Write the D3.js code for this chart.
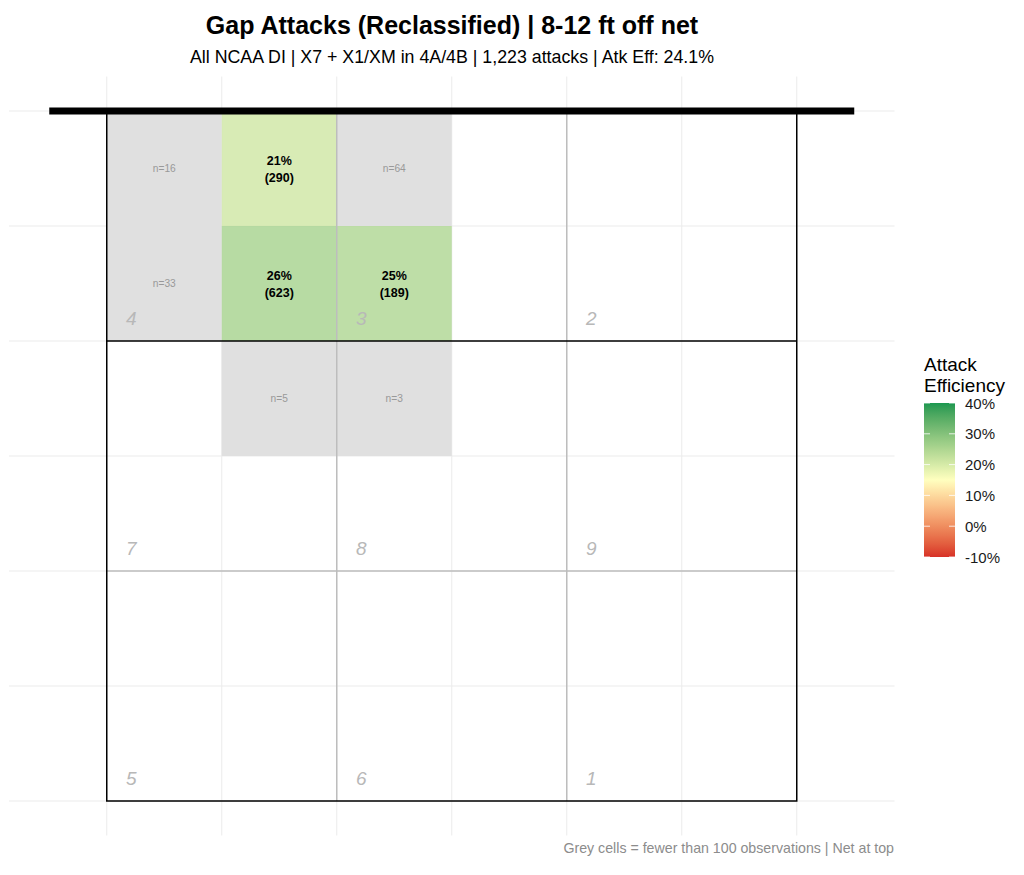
<!DOCTYPE html>
<html>
<head>
<meta charset="utf-8">
<script src="https://cdn.jsdelivr.net/npm/d3@7"></script>
<style>
  body { margin: 0; background: #fff; }
  svg { font-family: "Liberation Sans", Arial, sans-serif; }
</style>
</head>
<body>
<div id="chart"></div>
<script>
// Cell data (1.5 m cells, column / row counted from left / net)
const cellCol = [0, 1, 2, 0, 1, 2, 1, 2];
const cellRow = [0, 0, 0, 1, 1, 1, 2, 2];
const cellN = [16, 290, 64, 33, 623, 189, 5, 3];
const cellEff = [null, 0.21, null, null, 0.26, 0.25, null, null];
const minN = 100;

// Zones (3 m each), read left to right, net first
const zoneLabels = ["4", "3", "2", "7", "8", "9", "5", "6", "1"];

// Legend
const legendBreaks = [-0.1, 0, 0.1, 0.2, 0.3, 0.4];

const title = "Gap Attacks (Reclassified) | 8-12 ft off net";
const subtitle = "All NCAA DI | X7 + X1/XM in 4A/4B | 1,223 attacks | Atk Eff: 24.1%";
const caption = "Grey cells = fewer than 100 observations | Net at top";

const width = 1024, height = 875;
const cell = 1.5, zone = 3, court = 9;

const svg = d3.select("#chart").append("svg")
    .attr("width", width)
    .attr("height", height);

// metres -> pixels (coord_fixed, equal scale)
const x = d3.scaleLinear().domain([-1.275, 10.275]).range([9, 894.5]);
const y = d3.scaleLinear().domain([-0.45, 9.45]).range([76.5, 835.5]);

const color = d3.scaleLinear()
    .domain([-0.1, 0.15, 0.4])
    .range(["#d73027", "#ffffbf", "#1a9850"])
    .interpolate(d3.interpolateLab)
    .clamp(true);

const fmtPct = d => Math.round(d * 100) + "%";

// grid
const gridVals = d3.range(0, court + 0.01, cell);
svg.append("g").selectAll("line")
    .data(gridVals)
    .join("line")
    .attr("x1", x.range()[0]).attr("x2", x.range()[1])
    .attr("y1", d => y(d)).attr("y2", d => y(d))
    .attr("stroke", "#ebebeb").attr("stroke-width", 1);
svg.append("g").selectAll("line")
    .data(gridVals)
    .join("line")
    .attr("x1", d => x(d)).attr("x2", d => x(d))
    .attr("y1", y.range()[0]).attr("y2", y.range()[1])
    .attr("stroke", "#ebebeb").attr("stroke-width", 1);

// tiles
const cells = cellN.map((n, i) => ({
    col: cellCol[i], row: cellRow[i], n: n, eff: cellEff[i]
}));

svg.append("g").selectAll("rect")
    .data(cells)
    .join("rect")
    .attr("x", d => x(d.col * cell))
    .attr("y", d => y(d.row * cell))
    .attr("width", x(cell) - x(0))
    .attr("height", y(cell) - y(0))
    .attr("fill", d => d.n < minN ? "#e0e0e0" : color(d.eff))
    .attr("fill-opacity", d => d.n < minN ? 1 : 0.8);

// zone lines
const zoneLines = svg.append("g");
[zone, zone * 2].forEach(v => {
    zoneLines.append("line")
        .attr("x1", x(v)).attr("x2", x(v))
        .attr("y1", y(0)).attr("y2", y(court))
        .attr("stroke", "#bdbdbd").attr("stroke-width", 1.5);
});
zoneLines.append("line")
    .attr("x1", x(0)).attr("x2", x(court))
    .attr("y1", y(zone * 2)).attr("y2", y(zone * 2))
    .attr("stroke", "#bdbdbd").attr("stroke-width", 1.5);
// attack line
zoneLines.append("line")
    .attr("x1", x(0)).attr("x2", x(court))
    .attr("y1", y(zone)).attr("y2", y(zone))
    .attr("stroke", "#000").attr("stroke-width", 1.5);
// court outline
svg.append("rect")
    .attr("x", x(0)).attr("y", y(0))
    .attr("width", x(court) - x(0))
    .attr("height", y(court) - y(0))
    .attr("fill", "none")
    .attr("stroke", "#000").attr("stroke-width", 1.5);

// net
svg.append("line")
    .attr("x1", x(-0.75)).attr("x2", x(court + 0.75))
    .attr("y1", y(0)).attr("y2", y(0))
    .attr("stroke", "#000").attr("stroke-width", 7);

// zone labels
svg.append("g").selectAll("text")
    .data(zoneLabels)
    .join("text")
    .attr("x", (d, i) => x((i % 3) * zone + 0.25))
    .attr("y", (d, i) => y((Math.floor(i / 3) + 1) * zone) - 16)
    .attr("font-size", 19)
    .attr("font-style", "italic")
    .attr("fill", "#b8b8b8")
    .text(d => d);

// cell labels
const labels = svg.append("g").selectAll("g")
    .data(cells)
    .join("g")
    .attr("transform", d => `translate(${x(d.col * cell + cell / 2)},${y(d.row * cell + cell / 2)})`);

labels.filter(d => d.n >= minN).each(function (d) {
    const g = d3.select(this);
    g.append("text").attr("y", -3.5).attr("text-anchor", "middle")
        .attr("font-size", 12.5).attr("font-weight", "bold").attr("fill", "#000")
        .text(fmtPct(d.eff));
    g.append("text").attr("y", 13.2).attr("text-anchor", "middle")
        .attr("font-size", 12.5).attr("font-weight", "bold").attr("fill", "#000")
        .text(`(${d.n})`);
});
labels.filter(d => d.n < minN)
    .append("text")
    .attr("y", 3.5)
    .attr("text-anchor", "middle")
    .attr("font-size", 10.2)
    .attr("fill", "#999")
    .text(d => `n=${d.n}`);

// titles
svg.append("text")
    .attr("x", 452).attr("y", 34)
    .attr("text-anchor", "middle")
    .attr("font-size", 25).attr("font-weight", "bold")
    .text(title);
svg.append("text")
    .attr("x", 452).attr("y", 63)
    .attr("text-anchor", "middle")
    .attr("font-size", 17.8)
    .text(subtitle);
svg.append("text")
    .attr("x", 894).attr("y", 853)
    .attr("text-anchor", "end")
    .attr("font-size", 14.2).attr("fill", "#8c8c8c")
    .text(caption);

// legend
const legX = 924, legW = 31;
const yL = d3.scaleLinear().domain([-0.1, 0.4]).range([557, 403]);

const grad = svg.append("defs").append("linearGradient")
    .attr("id", "effGrad")
    .attr("x1", 0).attr("x2", 0).attr("y1", 1).attr("y2", 0);
grad.selectAll("stop")
    .data(d3.range(0, 1.0001, 0.02))
    .join("stop")
    .attr("offset", d => d)
    .attr("stop-color", d => color(-0.1 + d * 0.5));

svg.append("text")
    .attr("x", legX).attr("y", 370.5)
    .attr("font-size", 19)
    .text("Attack");
svg.append("text")
    .attr("x", legX).attr("y", 391.5)
    .attr("font-size", 19)
    .text("Efficiency");

svg.append("rect")
    .attr("x", legX).attr("y", yL(0.4))
    .attr("width", legW).attr("height", yL(-0.1) - yL(0.4))
    .attr("fill", "url(#effGrad)");

const ticks = svg.append("g").selectAll("g")
    .data(legendBreaks)
    .join("g");
ticks.append("line")
    .attr("x1", legX).attr("x2", legX + 6)
    .attr("y1", d => yL(d)).attr("y2", d => yL(d))
    .attr("stroke", "#fff").attr("stroke-opacity", 0.8);
ticks.append("line")
    .attr("x1", legX + legW - 6).attr("x2", legX + legW)
    .attr("y1", d => yL(d)).attr("y2", d => yL(d))
    .attr("stroke", "#fff").attr("stroke-opacity", 0.8);
ticks.append("text")
    .attr("x", legX + legW + 10)
    .attr("y", d => yL(d) + 5.5)
    .attr("font-size", 15)
    .attr("fill", "#1a1a1a")
    .text(d => fmtPct(d));
</script>
</body>
</html>
